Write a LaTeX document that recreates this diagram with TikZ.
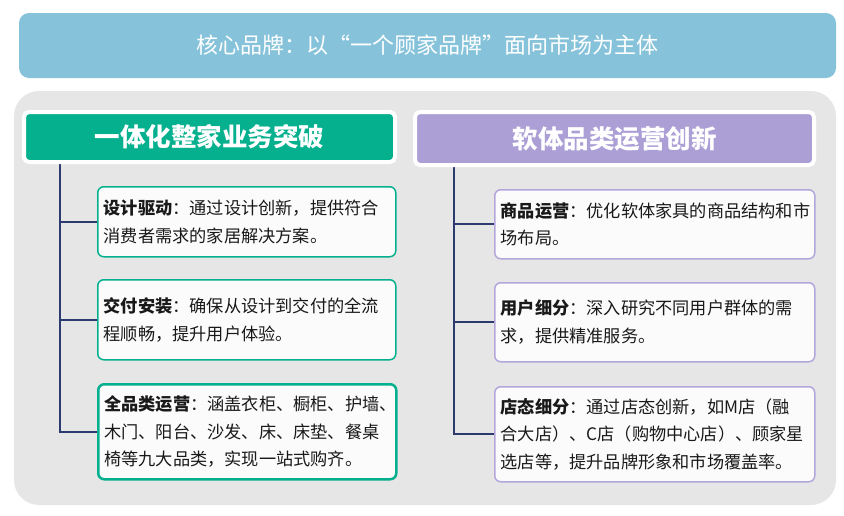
\documentclass[tikz,border=0pt]{standalone}
\usepackage{fontspec}
\setmainfont{Noto Sans CJK SC}
\usepackage{tikz}
\definecolor{bannerblue}{HTML}{86C3DB}
\definecolor{panelgray}{HTML}{E6E6E6}
\definecolor{wholegreen}{HTML}{04B08E}
\definecolor{softpurple}{HTML}{AC9FD6}
\definecolor{cardpurple}{HTML}{B3A6DC}
\definecolor{trunknavy}{HTML}{2C3A70}
\definecolor{cardwhite}{HTML}{FBFBFB}

\begin{document}
\begin{tikzpicture}[x=1pt,y=-1pt,
	header/.style={draw=white,line width=4pt,rounded corners=5pt,text=white,font=\fontsize{25.5}{28}\selectfont\bfseries},
	card/.style={anchor=north west,fill=cardwhite,line width=1.5pt,rounded corners=6pt,align=left,inner xsep=6pt,text=black!90,font=\fontsize{17.2}{27.5}\selectfont},
	branch/.style={draw=trunknavy,line width=1.6pt}]
	\useasboundingbox (0,0) rectangle (844,515);
	\node[fill=bannerblue,rounded corners=10pt,minimum width=817pt,minimum height=65pt,text=white,font=\fontsize{22}{24}\selectfont] (banner) at (427.5,45.5) {核心品牌：以“一个顾家品牌”面向市场为主体};
	\fill[panelgray,rounded corners=25pt] (14,91) rectangle (836,505);

	% left column
	\node[card,draw=wholegreen,text width=286pt,minimum height=70pt] (design) at (97,186) {\textbf{设计驱动}：通过设计创新，提供符合\\消费者需求的家居解决方案。};
	\node[card,draw=wholegreen,text width=286pt,minimum height=80pt] (delivery) at (97,279) {\textbf{交付安装}：确保从设计到交付的全流\\程顺畅，提升用户体验。};
	\node[card,draw=wholegreen,line width=2.5pt,text width=286pt,minimum height=95pt] (fullcat) at (97,383) {\textbf{全品类运营}：涵盖衣柜、橱柜、护墙、\\木门、阳台、沙发、床、床垫、餐桌\\椅等九大品类，实现一站式购齐。};
	\coordinate (trunkL) at (60,162);
	\foreach \c in {design,delivery,fullcat}
		\draw[branch] (trunkL) |- (\c.west);
	\node[header,fill=wholegreen,minimum width=371pt,minimum height=50pt] (wholehome) at (209.5,137) {一体化整家业务突破};

	% right column
	\node[card,draw=cardpurple,text width=308pt,minimum height=69pt] (goods) at (494,189) {\textbf{商品运营}：优化软体家具的商品结构和市\\场布局。};
	\node[card,draw=cardpurple,text width=308pt,minimum height=79pt] (users) at (494,282) {\textbf{用户细分}：深入研究不同用户群体的需\\求，提供精准服务。};
	\node[card,draw=cardpurple,text width=308pt,minimum height=95pt] (stores) at (494,386) {\textbf{店态细分}：通过店态创新，如M店（融\\合大店）、C店（购物中心店）、顾家星\\选店等，提升品牌形象和市场覆盖率。};
	\coordinate (trunkR) at (454,165);
	\foreach \c in {goods,users,stores}
		\draw[branch] (trunkR) |- (\c.west);
	\node[header,fill=softpurple,minimum width=399pt,minimum height=53pt] (softcat) at (614.5,138.5) {软体品类运营创新};
\end{tikzpicture}
\end{document}
